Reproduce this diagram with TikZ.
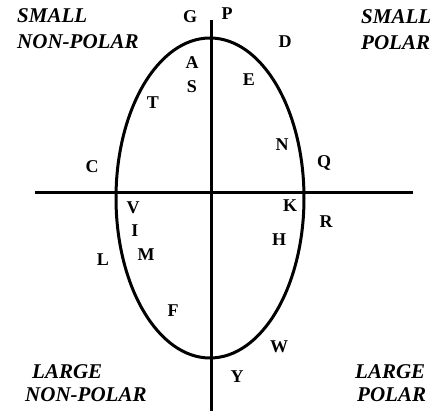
\documentclass[tikz,border=0pt]{standalone}
\usepackage{fontspec}
\setmainfont{Liberation Serif}
\begin{document}
\begin{tikzpicture}[x=1pt,y=-1pt,
  lab/.style={font=\fontsize{18}{18}\selectfont\bfseries, inner sep=0pt, anchor=center},
  region/.style={font=\fontsize{21}{26}\selectfont\bfseries\itshape, inner sep=0pt, align=left, anchor=north west},
  axis/.style={line width=3pt},
  curve/.style={line width=3pt}]
\useasboundingbox (0,0) rectangle (432,411);
\fill[white] (0,0) rectangle (432,411);
% axes
\coordinate (vt) at (211,20);
\coordinate (vb) at (211,413);
\coordinate (hl) at (35,193);
\coordinate (hr) at (413,193);
\draw[axis] (vt) -- (vb);
\draw[axis] (hl) -- (hr);
% ellipse
\coordinate (ec) at (210,198);
\draw[curve] (ec) ellipse [x radius=94pt, y radius=160pt];
% region labels
\node[region] (sn) at (17,8) {SMALL\\NON-POLAR};
\node[region] (sp) at (361,9) {SMALL\\POLAR};
\node[region, font=\fontsize{21}{23}\selectfont\bfseries\itshape] (ln) at (25,364) {\hspace*{7pt}LARGE\\NON-POLAR};
\node[region, font=\fontsize{21}{23}\selectfont\bfseries\itshape] (lp) at (355,364) {LARGE\\\hspace*{2pt}POLAR};
% letters
\node[lab] (G) at (190,17) {G};
\node[lab] (P) at (227,14) {P};
\node[lab] (D) at (285,42) {D};
\node[lab] (A) at (192,63) {A};
\node[lab] (S) at (192,87) {S};
\node[lab] (E) at (249,80) {E};
\node[lab] (T) at (153,103) {T};
\node[lab] (N) at (282,145) {N};
\node[lab] (C) at (92,167) {C};
\node[lab] (Q) at (324,163) {Q};
\node[lab] (V) at (133,208) {V};
\node[lab] (K) at (290,206) {K};
\node[lab] (R) at (326,222) {R};
\node[lab] (I) at (135,231) {I};
\node[lab] (H) at (279,240) {H};
\node[lab] (M) at (146,255) {M};
\node[lab] (L) at (103,260) {L};
\node[lab] (F) at (173,311) {F};
\node[lab] (W) at (279,347) {W};
\node[lab] (Y) at (237,377) {Y};
\end{tikzpicture}
\end{document}
